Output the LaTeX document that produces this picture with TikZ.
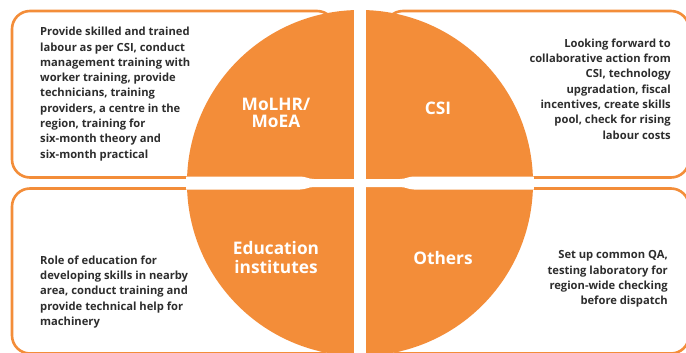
\documentclass[tikz,border=0pt]{standalone}
\usepackage{fontspec}
\setmainfont{Open Sans}
\usetikzlibrary{positioning}
\definecolor{ctorange}{RGB}{243,141,57}
\definecolor{cttext}{RGB}{45,45,45}
\tikzset{
  panel/.style={
    draw=ctorange,
    line width=2.6pt,
    fill=white,
    rounded corners=18pt
  },
  head/.style={
    text=white,
    inner sep=0pt,
    align=center,
    font=\fontsize{17.3}{19}\selectfont\bfseries
  },
  body/.style={
    text=cttext,
    inner sep=0pt,
    align=left,
    font=\fontsize{11.2}{15.3}\selectfont\bfseries
  },
  bodyr/.style={body,align=right}
}

\begin{document}
\begin{tikzpicture}[x=1pt,y=-1pt]
\useasboundingbox (0,0) rectangle (686,353);

% four framed panels
\draw[panel] (12,11) rectangle (335,177.5);
\draw[panel] (385,11) rectangle (689,177.5);
\draw[panel] (12,188.5) rectangle (335,353.5);
\draw[panel] (385,188.5) rectangle (689,353.5);

% the disc, cut into quarters
\fill[ctorange] (360,183) circle[radius=173];
\begin{scope}
  \clip (360,183) circle[radius=174];
  \fill[white] (354,0) rectangle (366,360);
  \fill[white] (180,176.5) -- (300,176.5)
    .. controls (306,176.5) and (308,179) .. (314,179) -- (400,179)
    .. controls (406,179) and (408,176.5) .. (414,176.5) -- (540,176.5)
    -- (540,189.5) -- (414,189.5)
    .. controls (408,189.5) and (406,187) .. (400,187) -- (314,187)
    .. controls (308,187) and (306,189.5) .. (300,189.5) -- (180,189.5)
    -- cycle;
\end{scope}

\node[head,font=\fontsize{17.3}{16.5}\selectfont\bfseries] (molhr) at (276,113) {MoLHR/\\MoEA};
\node[head] (csi) at (438,108) {CSI};
\node[head] (edu) at (276,258) {Education\\institutes};
\node[head] (others) at (443,258) {Others};

\node[body,anchor=west] (molhrtxt) at (40,94)
{
  Provide skilled and trained\\
  labour as per CSI, conduct\\
  management training with\\
  worker training, provide\\
  technicians, training\\
  providers, a centre in the\\
  region, training for\\
  six-month theory and\\
  six-month practical
};

\node[bodyr,anchor=east] (csitxt) at (671,89)
{
  Looking forward to\\
  collaborative action from\\
  CSI, technology\\
  upgradation, fiscal\\
  incentives, create skills\\
  pool, check for rising\\
  labour costs
};

\node[body,anchor=west] (edutxt) at (40,292)
{
  Role of education for\\
  developing skills in nearby\\
  area, conduct training and\\
  provide technical help for\\
  machinery
};

\node[bodyr,anchor=east] (otherstxt) at (668,279)
{
  Set up common QA,\\
  testing laboratory for\\
  region-wide checking\\
  before dispatch
};

\end{tikzpicture}
\end{document}
